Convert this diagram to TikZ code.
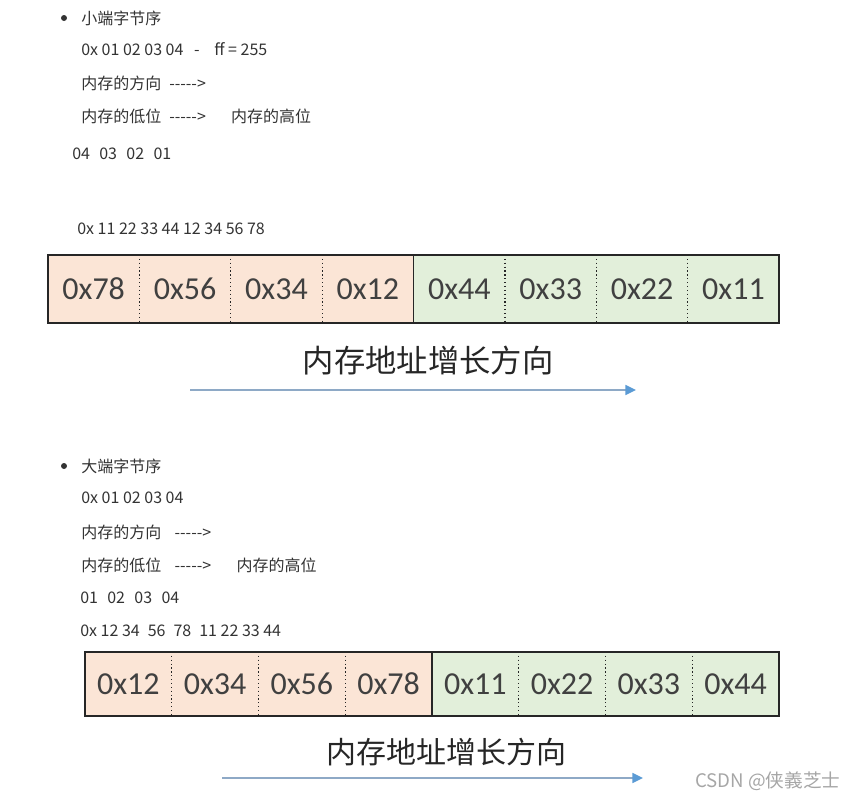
\documentclass[tikz,border=0pt]{standalone}
\usepackage{fontspec}
\setmainfont{Noto Sans CJK SC}
\newfontfamily\cellfont{Carlito}
\usetikzlibrary{positioning, arrows.meta}

\definecolor{lowfill}{HTML}{FBE5D6}
\definecolor{highfill}{HTML}{E2EFDA}
\definecolor{arrowline}{HTML}{8EA9C6}
\definecolor{arrowhead}{HTML}{5B9BD5}

\tikzset{
  note/.style={anchor=west, inner sep=0pt, text=black!80, font=\fontsize{12pt}{14pt}\selectfont},
  dot/.style={circle, fill=black!80, inner sep=0pt, minimum size=4.5pt},
  cell/.style={inner sep=0pt, outer sep=0pt, text=black!75, font=\cellfont\fontsize{24pt}{24pt}\selectfont},
  frame/.style={draw=black!85, line width=1.1pt},
  divider/.style={draw=black!85, dotted, line width=0.9pt},
  title/.style={inner sep=0pt, text=black!85},
  growth/.style={draw=arrowline, line width=1.2pt, -{Triangle[length=8pt, width=7.5pt, color=arrowhead]}},
}

\begin{document}
\begin{tikzpicture}[x=0.75pt, y=-0.75pt]
\useasboundingbox (0,0) rectangle (861,800);

% little endian
\node[dot] (ledot) at (64,18) {};
\node[note] (lehead) at (81,18) {小端字节序};
\node[note] (levalue) at (81,49) {0x 01 02 03 04\hspace{8pt}-\hspace{11pt}ff = 255};
\node[note] (ledir) at (81,83) {内存的方向\hspace{6pt}-{}-{}-{}-{}->};
\node[note] (lelowhigh) at (81,116) {内存的低位\hspace{6pt}-{}-{}-{}-{}->\hspace{19pt}内存的高位};
\node[note] (lebytes) at (72,154) {04\hspace{7pt}03\hspace{7pt}02\hspace{7pt}01};
\node[note] (lenum) at (77,229) {0x 11 22 33 44 12 34 56 78};

\foreach \v/\c [count=\i] in {78/lowfill,56/lowfill,34/lowfill,12/lowfill,44/highfill,33/highfill,22/highfill,11/highfill}
  \node[cell, fill=\c, minimum width=68.55pt, minimum height=51pt] (le\i) at ({48+91.4*(\i-0.5)},289) {0x\v};
\foreach \i in {1,2,3,5,6,7}
  \draw[divider] (le\i.north east) -- (le\i.south east);
\draw[frame] (le1.north west) rectangle (le8.south east);
\draw[frame] (le4.north east) -- (le4.south east);

\node[title, font=\fontsize{23.5pt}{26pt}\selectfont] (letitle) at (428,361) {内存地址增长方向};
\coordinate (learrS) at (190,390);
\coordinate (learrE) at (636,390);
\draw[growth] (learrS) -- (learrE);

% big endian
\node[dot] (bedot) at (64,466) {};
\node[note] (behead) at (81,466) {大端字节序};
\node[note] (bevalue) at (81,498) {0x 01 02 03 04};
\node[note] (bedir) at (81,532) {内存的方向\hspace{10pt}-{}-{}-{}-{}->};
\node[note] (belowhigh) at (81,565) {内存的低位\hspace{10pt}-{}-{}-{}-{}->\hspace{19pt}内存的高位};
\node[note] (bebytes) at (80,598) {01\hspace{7pt}02\hspace{7pt}03\hspace{7pt}04};
\node[note] (benum) at (80,631) {0x 12 34\hspace{6pt}56\hspace{6pt}78\hspace{6pt}11 22 33 44};

\foreach \v/\c [count=\i] in {12/lowfill,34/lowfill,56/lowfill,78/lowfill,11/highfill,22/highfill,33/highfill,44/highfill}
  \node[cell, fill=\c, minimum width=65.06pt, minimum height=48pt] (be\i) at ({85+86.75*(\i-0.5)},684) {0x\v};
\foreach \i in {1,2,3,5,6,7}
  \draw[divider] (be\i.north east) -- (be\i.south east);
\draw[frame] (be1.north west) rectangle (be8.south east);
\draw[frame] (be4.north east) -- (be4.south east);

\node[title, font=\fontsize{22.5pt}{25pt}\selectfont] (betitle) at (446,752) {内存地址增长方向};
\coordinate (bearrS) at (222,778);
\coordinate (bearrE) at (643,778);
\draw[growth] (bearrS) -- (bearrE);

\node[note, text=black!35, font=\fontsize{14pt}{16pt}\selectfont] (mark) at (695,781) {CSDN @侠義芝士};
\end{tikzpicture}
\end{document}
